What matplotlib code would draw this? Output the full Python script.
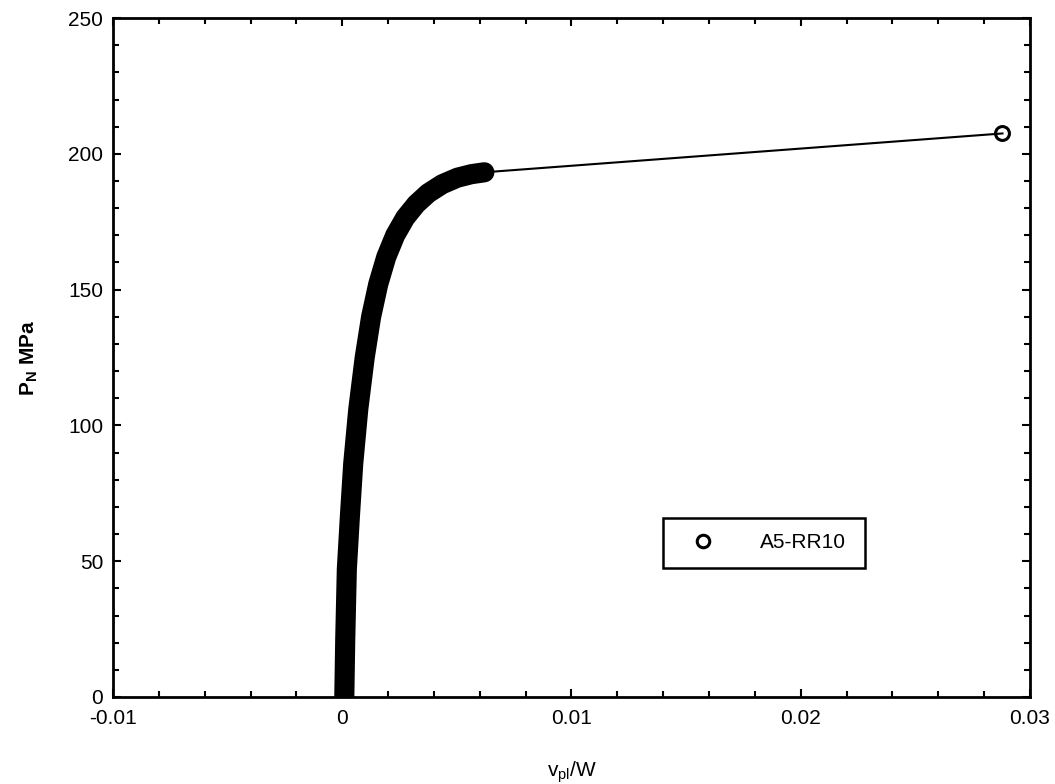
import matplotlib.pyplot as plt
from matplotlib.lines import Line2D

plt.rcParams['font.family'] = ['Liberation Sans', 'DejaVu Sans']
plt.rcParams['mathtext.default'] = 'regular'

# Test A5-RR10: normalised load vs plastic displacement
vpl_w = [0.00009, 0.00013, 0.0002, 0.00033, 0.00048, 0.0007, 0.00098, 0.00126,
         0.00157, 0.00192, 0.00231, 0.00275, 0.00323, 0.00375, 0.00436,
         0.00502, 0.00563, 0.0062,
         0.0288]
p_n = [0, 21, 47, 66, 86, 106, 125, 140,
       152, 162, 170, 176.5, 181.5, 185.5, 188.8,
       191.2, 192.5, 193.2,
       207.5]
label = 'A5-RR10'

fig = plt.figure(figsize=(10.55, 7.84), dpi=100)
ax = fig.add_axes([0.1071, 0.111, 0.8692, 0.866])

# dense measured points show up as a thick solid band
ax.plot(vpl_w[:-1], p_n[:-1], color='black', lw=14.5,
        solid_capstyle='round', solid_joinstyle='round')
# thin line out to the final point
ax.plot(vpl_w[-2:], p_n[-2:], color='black', lw=1.5, marker='o',
        markevery=[1], markersize=10, mfc='none', mec='black', mew=2.2)

ax.set_xlim(-0.01, 0.03)
ax.set_ylim(0, 250)
ax.set_xticks([-0.01, 0, 0.01, 0.02, 0.03])
ax.set_xticklabels(['-0.01', '0', '0.01', '0.02', '0.03'])
ax.set_yticks([0, 50, 100, 150, 200, 250])
ax.set_xticks([i * 0.002 - 0.01 for i in range(21)], minor=True)
ax.set_yticks(range(0, 251, 10), minor=True)
ax.tick_params(which='both', direction='in', top=True, right=True,
               labelsize=15, width=1.5)
ax.tick_params(axis='x', pad=9)
ax.tick_params(axis='y', pad=7)
ax.tick_params(which='major', length=6)
ax.tick_params(which='minor', length=4)
for s in ax.spines.values():
    s.set_linewidth(2)

ax.set_xlabel(r'v$_{pl}$/W', fontsize=15, labelpad=22)
ax.set_ylabel(r'P$_{N}$ MPa', fontsize=15, fontweight='bold', labelpad=20)

handle = Line2D([], [], ls='none', marker='o', markersize=9, mfc='none',
                mec='black', mew=2.2)
leg = ax.legend([handle], [label], loc='lower left',
                bbox_to_anchor=(0.600, 0.190, 0.220, 0.075), mode='expand',
                borderaxespad=0, fontsize=15, fancybox=False, framealpha=1,
                handletextpad=1.55, borderpad=0.75, handlelength=2.35)
leg.get_frame().set_edgecolor('black')
leg.get_frame().set_linewidth(1.8)

fig.savefig('out.png', dpi=100)
